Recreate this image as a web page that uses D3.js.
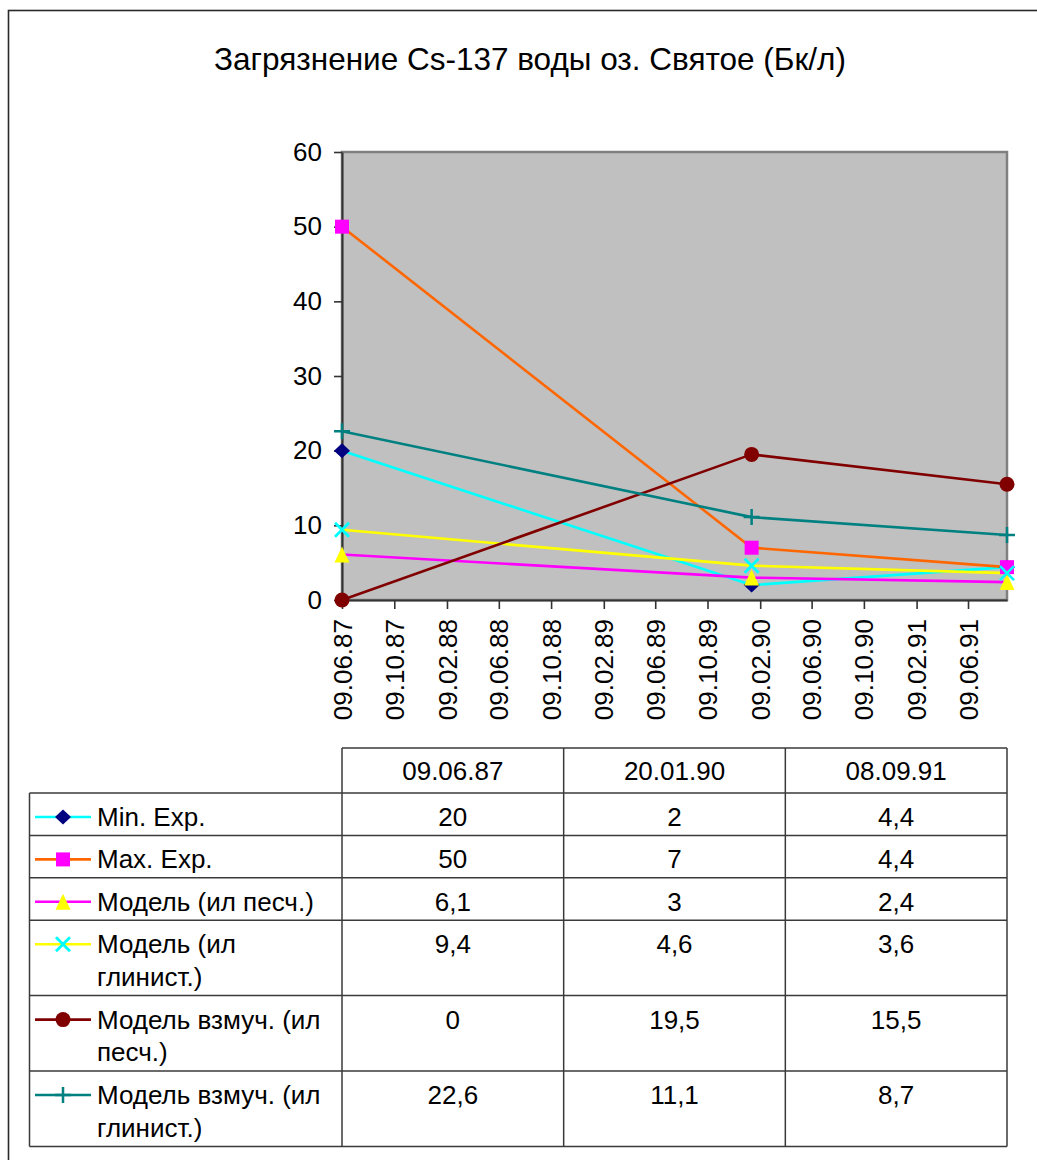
<!DOCTYPE html>
<html>
<head>
<meta charset="utf-8">
<script src="https://cdn.jsdelivr.net/npm/d3@7"></script>
<style>
  html, body { margin: 0; padding: 0; background: #fff; }
  svg { display: block; font-family: "Liberation Sans", Arial, sans-serif; }
</style>
</head>
<body>
<svg id="chart" width="1037" height="1160"></svg>
<script>
// Measurement dates (dd.mm.yy)
const dates = ["09.06.87", "20.01.90", "08.09.91"];

// Series names
const seriesNames = [
  "Min. Exp.",
  "Max. Exp.",
  "Модель (ил песч.)",
  "Модель (ил глинист.)",
  "Модель взмуч. (ил песч.)",
  "Модель взмуч. (ил глинист.)"
];

// Cs-137 concentration, Bq/l
const minExp    = [20, 2, 4.4];
const maxExp    = [50, 7, 4.4];
const modelSand = [6.1, 3, 2.4];
const modelClay = [9.4, 4.6, 3.6];
const stirSand  = [0, 19.5, 15.5];
const stirClay  = [22.6, 11.1, 8.7];

// Axis ticks
const xTickLabels = ["09.06.87", "09.10.87", "09.02.88", "09.06.88", "09.10.88", "09.02.89",
                     "09.06.89", "09.10.89", "09.02.90", "09.06.90", "09.10.90", "09.02.91", "09.06.91"];
const yTicks = [0, 10, 20, 30, 40, 50, 60];

const titleText = "Загрязнение Cs-137 воды оз. Святое (Бк/л)";

// Line colour, marker shape and marker colour for each series
const styles = [
  { line: "#00FFFF", shape: "diamond",  fill: "#000080" },
  { line: "#FF6600", shape: "square",   fill: "#FF00FF" },
  { line: "#FF00FF", shape: "triangle", fill: "#FFFF00" },
  { line: "#FFFF00", shape: "cross",    fill: "#00FFFF" },
  { line: "#800000", shape: "circle",   fill: "#800000" },
  { line: "#008080", shape: "plus",     fill: "#008080" }
];

const seriesValues = [minExp, maxExp, modelSand, modelClay, stirSand, stirClay];
const parse = d3.timeParse("%d.%m.%y");
const series = seriesNames.map((name, i) => ({
  name,
  style: styles[i],
  values: seriesValues[i].map((v, j) => ({ date: parse(dates[j]), value: v }))
}));

const fmtNum = v => String(v).replace(".", ",");

const svg = d3.select("#chart");

// Outer frame
svg.append("rect")
  .attr("x", 8.5).attr("y", 10.5)
  .attr("width", 1100).attr("height", 1200)
  .attr("fill", "#fff").attr("stroke", "#2a2a2a").attr("stroke-width", 1.6);

// Title
svg.append("text")
  .attr("x", 530).attr("y", 70)
  .attr("text-anchor", "middle")
  .attr("font-size", 31.5)
  .attr("fill", "#000")
  .text(titleText);

// Plot area
const plot = { left: 342, right: 1007, top: 152, bottom: 600 };

const x = d3.scaleTime()
  .domain([parse(dates[0]), parse(dates[dates.length - 1])])
  .range([plot.left, plot.right]);

const y = d3.scaleLinear()
  .domain([0, 60])
  .range([plot.bottom, plot.top]);

svg.append("rect")
  .attr("x", plot.left).attr("y", plot.top)
  .attr("width", plot.right - plot.left).attr("height", plot.bottom - plot.top)
  .attr("fill", "#C0C0C0")
  .attr("stroke", "#808080").attr("stroke-width", 2.5);

// Y axis
const yAxis = svg.append("g")
  .attr("transform", `translate(${plot.left},0)`)
  .call(d3.axisLeft(y).tickValues(yTicks).tickSize(8).tickPadding(12).tickSizeOuter(0));
yAxis.select(".domain").attr("stroke", "#333").attr("stroke-width", 2);
yAxis.selectAll(".tick line").attr("stroke", "#333").attr("stroke-width", 1.6);
yAxis.selectAll(".tick text")
  .attr("font-size", 26).attr("fill", "#000")
  .attr("font-family", "\"Liberation Sans\", Arial, sans-serif");

// X axis
const xTickDates = xTickLabels.map(parse);
const xAxis = svg.append("g")
  .attr("transform", `translate(0,${plot.bottom})`)
  .call(d3.axisBottom(x).tickValues(xTickDates).tickFormat(d3.timeFormat("%d.%m.%y"))
    .tickSize(9).tickSizeOuter(0));
xAxis.select(".domain").attr("stroke", "#333").attr("stroke-width", 2);
xAxis.selectAll(".tick line").attr("stroke", "#333").attr("stroke-width", 1.6);
xAxis.selectAll(".tick text")
  .attr("font-size", 26).attr("fill", "#000")
  .attr("font-family", "\"Liberation Sans\", Arial, sans-serif")
  .attr("transform", "rotate(-90)")
  .attr("x", -19).attr("y", 0).attr("dy", "0.35em")
  .attr("text-anchor", "end");

// Marker drawing
function drawMarker(g, shape, fill, cx, cy) {
  switch (shape) {
    case "diamond":
      g.append("path")
        .attr("d", `M${cx},${cy - 7.5}L${cx + 8},${cy}L${cx},${cy + 7.5}L${cx - 8},${cy}Z`)
        .attr("fill", fill);
      break;
    case "square":
      g.append("rect")
        .attr("x", cx - 7).attr("y", cy - 7).attr("width", 14).attr("height", 14)
        .attr("fill", fill);
      break;
    case "triangle":
      g.append("path")
        .attr("d", `M${cx},${cy - 8}L${cx + 7.5},${cy + 8}L${cx - 7.5},${cy + 8}Z`)
        .attr("fill", fill);
      break;
    case "cross":
      g.append("path")
        .attr("d", `M${cx - 7},${cy - 7}L${cx + 7},${cy + 7}M${cx + 7},${cy - 7}L${cx - 7},${cy + 7}`)
        .attr("stroke", fill).attr("stroke-width", 2.8).attr("fill", "none");
      break;
    case "circle":
      g.append("circle")
        .attr("cx", cx).attr("cy", cy).attr("r", 7.5)
        .attr("fill", fill);
      break;
    case "plus":
      g.append("path")
        .attr("d", `M${cx - 8},${cy}L${cx + 8},${cy}M${cx},${cy - 8}L${cx},${cy + 8}`)
        .attr("stroke", fill).attr("stroke-width", 2.5).attr("fill", "none");
      break;
  }
}

// Series lines
const line = d3.line().x(d => x(d.date)).y(d => y(d.value));
const linesG = svg.append("g");
series.forEach(s => {
  linesG.append("path")
    .datum(s.values)
    .attr("d", line)
    .attr("fill", "none")
    .attr("stroke", s.style.line)
    .attr("stroke-width", 2.6)
    .attr("stroke-linejoin", "round");
});

// Series markers
const markersG = svg.append("g");
series.forEach(s => {
  s.values.forEach(d => drawMarker(markersG, s.style.shape, s.style.fill, x(d.date), y(d.value)));
});

// Data table
const table = { left: 29.5, headTop: 748, headH: 45, rowH1: 42.4, lineH: 32.5 };
const colX = d3.range(dates.length + 1).map(i => plot.left + i * (plot.right - plot.left) / dates.length);
const tableG = svg.append("g").attr("font-size", 26).attr("fill", "#000");

// Wrap series names into the first column
const wrapWidth = 240;
const measure = tableG.append("text").attr("font-size", 26).attr("visibility", "hidden");
function wrap(str) {
  const words = str.split(" ");
  const lines = [];
  let cur = "";
  words.forEach(w => {
    const test = cur ? cur + " " + w : w;
    measure.text(test);
    if (measure.node().getComputedTextLength() > wrapWidth && cur) {
      lines.push(cur);
      cur = w;
    } else {
      cur = test;
    }
  });
  if (cur) lines.push(cur);
  return lines;
}
series.forEach(s => { s.lines = wrap(s.name); });
measure.remove();

// Row positions
const rowTops = [];
let yy = table.headTop + table.headH;
series.forEach(s => {
  rowTops.push(yy);
  yy += s.lines.length === 1 ? table.rowH1 : table.rowH1 + table.lineH + 0.5;
});
const tableBottom = yy;

const gridColor = "#3a3a3a";
const gridW = 1.5;

// Header row
tableG.append("line")
  .attr("x1", colX[0]).attr("x2", colX[colX.length - 1])
  .attr("y1", table.headTop).attr("y2", table.headTop)
  .attr("stroke", gridColor).attr("stroke-width", gridW);
dates.forEach((d, j) => {
  tableG.append("text")
    .attr("x", (colX[j] + colX[j + 1]) / 2)
    .attr("y", table.headTop + 32)
    .attr("text-anchor", "middle")
    .text(d);
});

// Horizontal rules
rowTops.concat([tableBottom]).forEach(t => {
  tableG.append("line")
    .attr("x1", table.left).attr("x2", colX[colX.length - 1])
    .attr("y1", t).attr("y2", t)
    .attr("stroke", gridColor).attr("stroke-width", gridW);
});

// Vertical rules
tableG.append("line")
  .attr("x1", table.left).attr("x2", table.left)
  .attr("y1", rowTops[0]).attr("y2", tableBottom)
  .attr("stroke", gridColor).attr("stroke-width", gridW);
colX.forEach(cx => {
  tableG.append("line")
    .attr("x1", cx).attr("x2", cx)
    .attr("y1", table.headTop).attr("y2", tableBottom)
    .attr("stroke", gridColor).attr("stroke-width", gridW);
});

// Rows: legend key, name, values
series.forEach((s, i) => {
  const top = rowTops[i];
  const base = top + 33;
  const keyY = base - 9;
  tableG.append("line")
    .attr("x1", 35).attr("x2", 91)
    .attr("y1", keyY).attr("y2", keyY)
    .attr("stroke", s.style.line).attr("stroke-width", 2.6);
  drawMarker(tableG, s.style.shape, s.style.fill, 63, keyY);

  const t = tableG.append("text").attr("x", 97).attr("y", base);
  s.lines.forEach((ln, k) => {
    t.append("tspan").attr("x", 97).attr("y", base + k * table.lineH).text(ln);
  });

  s.values.forEach((d, j) => {
    tableG.append("text")
      .attr("x", (colX[j] + colX[j + 1]) / 2)
      .attr("y", base)
      .attr("text-anchor", "middle")
      .text(fmtNum(d.value));
  });
});
</script>
</body>
</html>
